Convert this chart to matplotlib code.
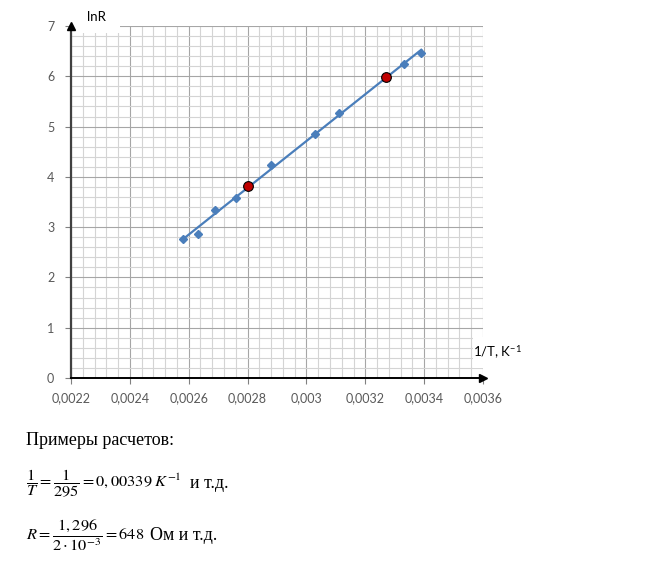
import numpy as np
import matplotlib
matplotlib.use("Agg")
import matplotlib.pyplot as plt
from matplotlib.patches import Rectangle
from matplotlib.ticker import MultipleLocator

# измеренные точки: 1/T (K^-1) и lnR
inv_T = [0.00258, 0.00263, 0.00269, 0.00276, 0.00288, 0.00303, 0.00311, 0.00333, 0.00339]
lnR = [2.76, 2.86, 3.34, 3.58, 4.24, 4.86, 5.27, 6.24, 6.47]

# точки для расчёта наклона (красные)
calc_x = [0.00280, 0.00327]
calc_y = [3.82, 5.98]

x_ticks = [0.0022, 0.0024, 0.0026, 0.0028, 0.0030, 0.0032, 0.0034, 0.0036]
x_tick_labels = ["0,0022", "0,0024", "0,0026", "0,0028", "0,003", "0,0032", "0,0034", "0,0036"]

plt.rcParams["font.family"] = ["Lato", "DejaVu Sans"]
plt.rcParams["mathtext.fontset"] = "stix"

W, H = 669, 571
fig = plt.figure(figsize=(W / 100, H / 100), dpi=100)
ax = fig.add_axes([71 / W, 1 - 378 / H, 412 / W, 352 / H])

ax.set_xlim(0.0022, 0.0036)
ax.set_ylim(0, 7)
ax.set_xticks(x_ticks)
ax.set_xticklabels(x_tick_labels)
ax.xaxis.set_minor_locator(MultipleLocator(0.00004))
ax.yaxis.set_major_locator(MultipleLocator(1))
ax.yaxis.set_minor_locator(MultipleLocator(0.2))

ax.grid(which="major", color="#a6a6a6", lw=0.8)
ax.grid(which="minor", color="#d4d4d4", lw=0.8)
ax.tick_params(which="minor", length=0)
ax.tick_params(which="major", length=4, color="#808080", labelsize=9,
               labelcolor="#595959", width=0.8)
ax.tick_params(axis="x", pad=6)
ax.tick_params(axis="y", pad=8)

for s in ["top", "right"]:
    ax.spines[s].set_visible(False)
ax.spines["left"].set_color("#404040")
ax.spines["left"].set_linewidth(1.6)
ax.spines["bottom"].set_color("black")
ax.spines["bottom"].set_linewidth(1.4)
ax.plot(1, 0, ">", color="black", ms=6, transform=ax.transAxes, clip_on=False, zorder=5)
ax.plot(0, 1, "^", color="black", ms=6, transform=ax.transAxes, clip_on=False, zorder=5)

# линия тренда
k, b = np.polyfit(inv_T, lnR, 1)
xs = np.array([min(inv_T), max(inv_T)])
ax.plot(xs, k * xs + b, color="#4a7ebb", lw=1.6, zorder=3)
ax.plot(inv_T, lnR, "D", color="#4a7ebb", ms=4.5, zorder=4, clip_on=False)
ax.plot(calc_x, calc_y, "o", mfc="#c00000", mec="black", mew=0.8, ms=7, zorder=5)

# подписи осей на белом фоне
ax.add_patch(Rectangle((0.002, 0.98), 0.117, 0.1, transform=ax.transAxes,
                       facecolor="white", edgecolor="none", clip_on=False, zorder=2.2))
ax.text(0.061, 1.026, "lnR", transform=ax.transAxes, ha="center", va="center",
        fontsize=9.5, color="black", zorder=6)
ax.add_patch(Rectangle((0.976, 0.028), 0.13, 0.088, transform=ax.transAxes,
                       facecolor="white", edgecolor="none", clip_on=False, zorder=2.2))
ax.text(1.036, 0.074, "1/T, K$^{\\mathregular{-1}}$", transform=ax.transAxes,
        ha="center", va="center", fontsize=9.5, color="black", zorder=6)

# текст под графиком
serif = ["Liberation Serif", "DejaVu Serif"]
fig.text(26 / W, 1 - 445 / H, "Примеры расчетов:", family=serif, fontsize=13,
         va="baseline")
fig.text(26 / W, 1 - 483 / H, r"$\dfrac{1}{T}=\dfrac{1}{295}=0,00339\;K^{-1}$",
         fontsize=11.8, va="center")
fig.text(190 / W, 1 - 488 / H, "и т.д.", family=serif, fontsize=13, va="baseline")
fig.text(26 / W, 1 - 535 / H, r"$R=\dfrac{1,296}{2\cdot10^{-3}}=648$",
         fontsize=11.8, va="center")
fig.text(150 / W, 1 - 540 / H, "Ом и т.д.", family=serif, fontsize=13, va="baseline")

fig.savefig("out.png", dpi=100)
